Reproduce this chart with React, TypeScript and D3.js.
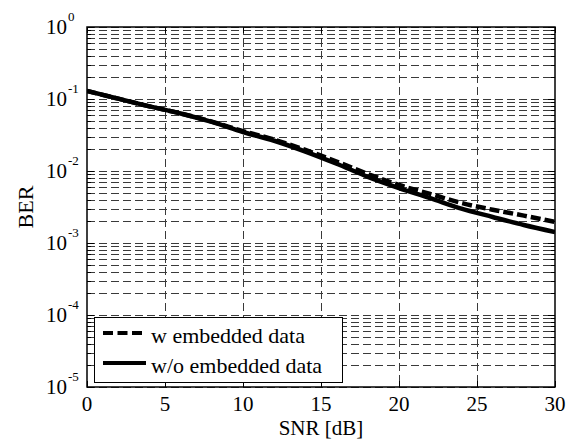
import React from "react";
import * as d3 from "d3";

const snr = [0, 2, 4, 6, 8, 10, 12, 14, 16, 18, 20, 22, 24, 26, 28, 30];
const berWith = [0.129, 0.101, 0.079, 0.063, 0.0485, 0.0358, 0.0273, 0.0196, 0.0135, 0.0091, 0.0064, 0.0048, 0.0036, 0.0029, 0.0024, 0.00196];
const berWithout = [0.129, 0.101, 0.079, 0.063, 0.048, 0.0348, 0.0263, 0.0186, 0.0126, 0.0083, 0.0058, 0.0042, 0.003, 0.0023, 0.00178, 0.00142];
const xTicks = [0, 5, 10, 15, 20, 25, 30];
const yExps = [0, -1, -2, -3, -4, -5];
const legendLabels = ["w embedded data", "w/o embedded data"];

const W = 573, H = 441;
const L = 87, R = 555, T = 27, B = 387;
const FONT = "'Liberation Serif', 'DejaVu Serif', serif";

export default function App() {
  const x = d3.scaleLinear().domain([0, 30]).range([L, R]);
  const y = d3.scaleLog().domain([1e-5, 1]).range([B, T]);

  const minor: number[] = [];
  for (let e = -5; e < 0; e++) {
    for (let k = 2; k <= 9; k++) minor.push(k * Math.pow(10, e));
  }
  const majors = yExps.map((e) => Math.pow(10, e));

  const line = d3
    .line<number>()
    .x((_, i) => x(snr[i]))
    .y((d) => y(d))
    .curve(d3.curveMonotoneX);

  const px = (v: number) => Math.round(v) + 0.5;
  const gridColor = "#3a3a3a";

  return (
    <svg width={W} height={H} style={{ position: "absolute", left: 0, top: 0, background: "#fff" }}>
      <rect x={0} y={0} width={W} height={H} fill="#fff" />
      <defs>
        <clipPath id="plotClip">
          <rect x={L} y={T} width={R - L} height={B - T} />
        </clipPath>
      </defs>
      {[...minor, ...majors].map((v, i) => (
        <line key={"h" + i} x1={L} x2={R} y1={px(y(v))} y2={px(y(v))} stroke={gridColor} strokeWidth={1} strokeDasharray="8,4" />
      ))}
      {xTicks.slice(1, -1).map((t) => (
        <line key={"v" + t} x1={px(x(t))} x2={px(x(t))} y1={T} y2={B} stroke={gridColor} strokeWidth={1} strokeDasharray="8,4" />
      ))}
      {minor.map((v, i) => (
        <g key={"mt" + i}>
          <line x1={L} x2={L + 4} y1={px(y(v))} y2={px(y(v))} stroke="#000" />
          <line x1={R - 4} x2={R} y1={px(y(v))} y2={px(y(v))} stroke="#000" />
        </g>
      ))}
      {majors.map((v, i) => (
        <g key={"Mt" + i}>
          <line x1={L} x2={L + 7} y1={px(y(v))} y2={px(y(v))} stroke="#000" />
          <line x1={R - 7} x2={R} y1={px(y(v))} y2={px(y(v))} stroke="#000" />
        </g>
      ))}
      {xTicks.map((t) => (
        <g key={"xt" + t}>
          <line x1={px(x(t))} x2={px(x(t))} y1={B} y2={B - 6} stroke="#000" />
          <line x1={px(x(t))} x2={px(x(t))} y1={T} y2={T + 6} stroke="#000" />
        </g>
      ))}
      <g clipPath="url(#plotClip)">
        <path d={line(berWith) || ""} fill="none" stroke="#000" strokeWidth={4.5} strokeDasharray="10,4" />
        <path d={line(berWithout) || ""} fill="none" stroke="#000" strokeWidth={4.5} />
      </g>
      <rect x={L} y={T} width={R - L} height={B - T} fill="none" stroke="#000" strokeWidth={1.5} />
      {xTicks.map((t) => (
        <text key={"xl" + t} x={x(t)} y={411} textAnchor="middle" fontSize={21} fontFamily={FONT}>
          {t}
        </text>
      ))}
      {yExps.map((e) => (
        <g key={"yl" + e}>
          <text x={67} y={y(Math.pow(10, e)) + 7} textAnchor="end" fontSize={21} fontFamily={FONT}>
            10
          </text>
          <text x={68} y={y(Math.pow(10, e)) - 6} textAnchor="start" fontSize={13} fontFamily={FONT}>
            {e === 0 ? "0" : "-" + Math.abs(e)}
          </text>
        </g>
      ))}
      <text x={(L + R) / 2} y={435} textAnchor="middle" fontSize={21} fontFamily={FONT}>
        SNR [dB]
      </text>
      <text transform={`translate(33,${(T + B) / 2}) rotate(-90)`} textAnchor="middle" fontSize={22} fontFamily={FONT}>
        BER
      </text>
      <rect x={94.5} y={317.5} width={248} height={65} fill="#fff" stroke="#000" strokeWidth={1} />
      <line x1={103} x2={146} y1={333} y2={333} stroke="#000" strokeWidth={4} strokeDasharray="10,4.5" />
      <line x1={103} x2={146} y1={363} y2={363} stroke="#000" strokeWidth={4} />
      <text x={151} y={343} fontSize={22} fontFamily={FONT}>
        {legendLabels[0]}
      </text>
      <text x={151} y={373} fontSize={22} fontFamily={FONT}>
        {legendLabels[1]}
      </text>
    </svg>
  );
}
